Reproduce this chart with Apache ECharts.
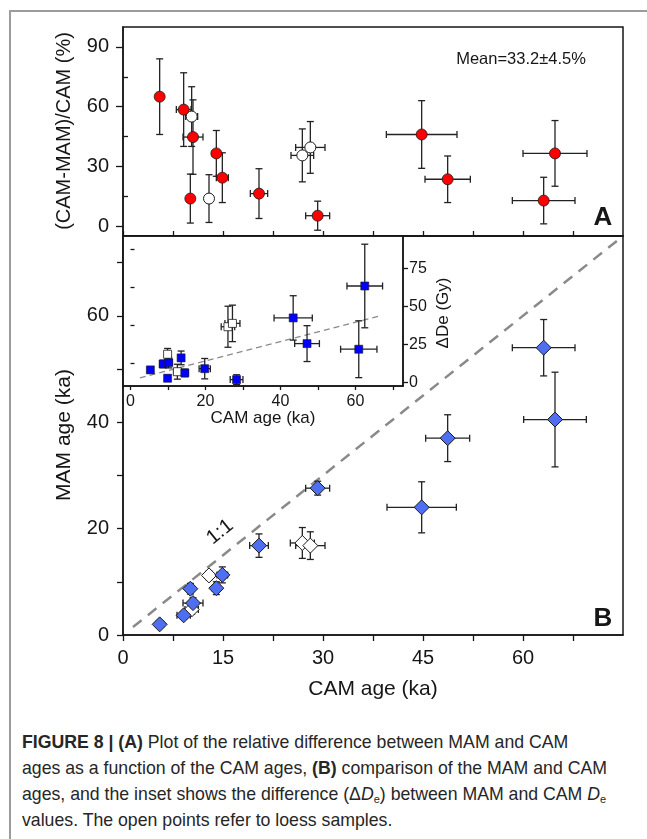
<!DOCTYPE html>
<html>
<head>
<meta charset="utf-8">
<script src="https://cdn.jsdelivr.net/npm/echarts@6/dist/echarts.min.js"></script>
<style>
  html, body { margin: 0; padding: 0; background: #fff; }
  #wrap { position: relative; width: 647px; height: 839px; overflow: hidden; }
  #frame { position: absolute; left: 9px; top: 10px; width: 660px; height: 860px;
    border-top: 2px solid #9c9c9c; border-left: 2px solid #9c9c9c; }
  #chart { position: absolute; left: 0; top: 0; width: 647px; height: 720px; }
  #caption { position: absolute; left: 22px; top: 729px; font-family: 'Liberation Sans', Arial, sans-serif;
    font-size: 17.7px; line-height: 26px; color: #262626; white-space: nowrap; }
  #caption sub { font-size: 11px; vertical-align: -3px; line-height: 0; }
</style>
</head>
<body>
<div id="wrap">
  <div id="frame"></div>
  <div id="chart"></div>
  <div id="caption">
    <b>FIGURE 8 | (A)</b> Plot of the relative difference between MAM and CAM<br>
    ages as a function of the CAM ages, <b>(B)</b> comparison of the MAM and CAM<br>
    ages, and the inset shows the difference (&Delta;<i>D</i><sub>e</sub>) between MAM and CAM <i>D</i><sub>e</sub><br>
    values. The open points refer to loess samples.
  </div>
</div>
<script>
// panel A: relative difference (%) vs CAM age (ka)
const aRedX = [5.5, 9.1, 10.5, 10.1, 14.0, 14.9, 20.4, 29.2, 44.8, 48.7, 64.8, 63.1];
const aRedY = [65, 58.5, 44.7, 13.8, 36.5, 24.3, 16.3, 5.2, 46, 23.5, 36.5, 12.8];
const aRedXErr = [0.3, 1.1, 1.5, 0.3, 0.6, 0.9, 1.3, 1.8, 5.3, 3.4, 4.8, 4.7];
const aRedYErr = [19, 18.5, 18.7, 12.3, 11.5, 12.5, 12.5, 7.3, 17, 11.7, 16.5, 11.7];
const aOpenX = [10.3, 12.9, 26.9, 28.1];
const aOpenY = [55, 13.8, 35.5, 39.5];
const aOpenXErr = [0.9, 0.5, 1.7, 2.2];
const aOpenYErr = [15, 12, 13.3, 13];

// panel B: MAM age vs CAM age (ka)
const bX = [5.5, 9.1, 10.5, 10.1, 14.0, 14.9, 20.4, 29.2, 44.8, 48.7, 64.8, 63.1];
const bY = [2.0, 3.7, 6.0, 8.7, 8.8, 11.3, 16.8, 27.6, 24.0, 37.0, 40.5, 54.0];
const bXErr = [0.6, 1.0, 1.5, 0.5, 0.6, 0.8, 1.4, 1.8, 5.2, 3.3, 4.7, 4.7];
const bYErr = [0.5, 0.7, 1.0, 1.0, 1.2, 1.5, 2.2, 1.3, 4.8, 4.4, 8.9, 5.3];
const bOpenX = [10.3, 12.9, 26.9, 28.1];
const bOpenY = [4.8, 11.2, 17.3, 16.8];
const bOpenXErr = [1.0, 0.6, 1.8, 2.2];
const bOpenYErr = [0.9, 0.8, 2.9, 2.6];
const oneX = [1.5, 75];
const oneY = [1.5, 75];

// inset: delta De (Gy) vs CAM age (ka)
const iX = [5.3, 8.7, 10.2, 9.9, 13.5, 14.5, 19.8, 28.3, 43.4, 47.1, 60.9, 62.5];
const iY = [8.4, 12.3, 13.2, 2.9, 16.3, 6.4, 9.2, 2.0, 42.6, 25.7, 22.0, 63.6];
const iXErr = [0.4, 0.9, 0.9, 0.4, 0.5, 0.9, 1.5, 1.7, 5.1, 3.3, 4.85, 4.75];
const iYErr = [1, 2.5, 3.5, 2, 4.5, 2.5, 6.7, 3.2, 14.6, 11.8, 18.7, 27.5];
const iOpenX = [9.9, 12.5, 26.0, 27.2];
const iOpenY = [18.7, 7.2, 36.8, 39.0];
const iOpenXErr = [0.6, 1.0, 1.8, 2.0];
const iOpenYErr = [3.8, 4.9, 13.5, 12];
const fitX = [2.5, 67];
const fitY = [3.2, 44.2];

// tick values
const bXLabels = [0, 15, 30, 45, 60];
const bXTicks = [0, 7.5, 15, 22.5, 30, 37.5, 45, 52.5, 60, 67.5];
const bYLabels = [0, 20, 40, 60];
const bYTicks = [0, 10, 20, 30, 40, 50, 60, 70];
const aYLabels = [0, 30, 60, 90];
const aYMinor = [15, 45, 75];
const iXLabels = [0, 20, 40, 60];
const iXTicks = [0, 10, 20, 30, 40, 50, 60, 70];
const iYLabels = [0, 25, 50, 75];
const iYMinor = [12.5, 37.5, 62.5, 87.5];

const FONT = "'Liberation Sans', Arial, sans-serif";
const INK = '#161616';

const zip = (...cols) => cols[0].map((_, i) => cols.map((c) => c[i]));

const errRender = (params, api) => {
  const x = api.value(0);
  const y = api.value(1);
  const dx = api.value(2);
  const dy = api.value(3);
  const l = api.coord([x - dx, y]);
  const r = api.coord([x + dx, y]);
  const t = api.coord([x, y + dy]);
  const b = api.coord([x, y - dy]);
  const c = 3.5;
  const st = { stroke: '#222', lineWidth: 1.3 };
  const seg = (x1, y1, x2, y2) => ({ type: 'line', shape: { x1, y1, x2, y2 }, style: st });
  return {
    type: 'group',
    children: [
      seg(l[0], l[1], r[0], r[1]),
      seg(t[0], t[1], b[0], b[1]),
      seg(l[0], l[1] - c, l[0], l[1] + c),
      seg(r[0], r[1] - c, r[0], r[1] + c),
      seg(t[0] - c, t[1], t[0] + c, t[1]),
      seg(b[0] - c, b[1], b[0] + c, b[1]),
    ],
  };
};

const errSeries = (xs, ys, xe, ye, xi, yi) => ({
  type: 'custom',
  xAxisIndex: xi,
  yAxisIndex: yi,
  renderItem: errRender,
  encode: { x: 0, y: 1 },
  clip: false,
  silent: true,
  z: 2,
  data: zip(xs, ys, xe, ye),
});

const markSeries = (xs, ys, xi, yi, symbol, size, fill, bw) => ({
  type: 'scatter',
  xAxisIndex: xi,
  yAxisIndex: yi,
  symbol,
  symbolSize: size,
  itemStyle: { color: fill, borderColor: '#1a1a1a', borderWidth: bw, opacity: 1 },
  z: 3,
  silent: true,
  data: zip(xs, ys),
});

const axisLine = { show: true, onZero: false, lineStyle: { color: INK, width: 1.5 } };
const tickStyle = { color: INK, width: 1.3 };

const chart = echarts.init(document.getElementById('chart'), null, { renderer: 'canvas' });

const option = {
  animation: false,
  backgroundColor: 'transparent',
  grid: [
    { left: 123, top: 27, width: 500, height: 209, show: true, borderColor: INK, borderWidth: 1.5 },
    { left: 123, top: 236, width: 500, height: 399, show: true, borderColor: INK, borderWidth: 1.5 },
    { left: 123, top: 236, width: 280, height: 150, show: true, borderColor: INK, borderWidth: 1.5, backgroundColor: '#fff' },
  ],
  xAxis: [
    {
      gridIndex: 0, type: 'value', min: 0, max: 75, axisLine,
      axisLabel: { show: false },
      axisTick: { inside: true, length: 5, lineStyle: tickStyle, customValues: bXTicks },
      splitLine: { show: false },
    },
    {
      gridIndex: 1, type: 'value', min: 0, max: 75, axisLine,
      axisLabel: { customValues: bXLabels, fontSize: 20, fontFamily: FONT, color: INK, margin: 13 },
      axisTick: { length: 6, lineStyle: tickStyle, customValues: bXTicks },
      splitLine: { show: false },
    },
    {
      gridIndex: 2, type: 'value', min: -2, max: 72.7, axisLine,
      axisLabel: { customValues: iXLabels, fontSize: 16, fontFamily: FONT, color: INK, margin: 8 },
      axisTick: { length: 4, lineStyle: tickStyle, customValues: iXTicks },
      splitLine: { show: false },
    },
  ],
  yAxis: [
    {
      gridIndex: 0, type: 'value', min: -5, max: 100, axisLine,
      axisLabel: { customValues: aYLabels, fontSize: 20, fontFamily: FONT, color: INK, margin: 14 },
      axisTick: { length: 7, lineStyle: tickStyle, customValues: aYLabels },
      splitLine: { show: false },
    },
    {
      gridIndex: 0, type: 'value', min: -5, max: 100,
      axisLine: { show: false },
      axisLabel: { show: false },
      axisTick: { length: 5, lineStyle: tickStyle, customValues: aYMinor },
      splitLine: { show: false },
    },
    {
      gridIndex: 1, type: 'value', min: 0, max: 75, axisLine,
      axisLabel: { customValues: bYLabels, fontSize: 20, fontFamily: FONT, color: INK, margin: 14 },
      axisTick: { length: 6, lineStyle: tickStyle, customValues: bYTicks },
      splitLine: { show: false },
    },
    {
      gridIndex: 2, type: 'value', position: 'right', min: -2.2, max: 96.5, axisLine,
      axisLabel: { customValues: iYLabels, fontSize: 16, fontFamily: FONT, color: INK, margin: 6 },
      axisTick: { length: 5, lineStyle: tickStyle, customValues: iYLabels },
      splitLine: { show: false },
    },
    {
      gridIndex: 2, type: 'value', position: 'right', min: -2.2, max: 96.5,
      axisLine: { show: false },
      axisLabel: { show: false },
      axisTick: { length: 4, lineStyle: tickStyle, customValues: iYMinor },
      splitLine: { show: false },
    },
  ],
  series: [
    // panel A
    errSeries(aRedX, aRedY, aRedXErr, aRedYErr, 0, 0),
    errSeries(aOpenX, aOpenY, aOpenXErr, aOpenYErr, 0, 0),
    markSeries(aRedX, aRedY, 0, 0, 'circle', 11, '#ff0000', 0.8),
    markSeries(aOpenX, aOpenY, 0, 0, 'circle', 11, '#ffffff', 1),
    // panel B
    {
      type: 'line', xAxisIndex: 1, yAxisIndex: 2, data: zip(oneX, oneY), symbol: 'none', silent: true,
      lineStyle: { color: '#8a8a8a', width: 2.5, type: [11, 8] }, z: 1,
    },
    errSeries(bOpenX, bOpenY, bOpenXErr, bOpenYErr, 1, 2),
    markSeries(bOpenX, bOpenY, 1, 2, 'diamond', 15, '#ffffff', 1),
    errSeries(bX, bY, bXErr, bYErr, 1, 2),
    markSeries(bX, bY, 1, 2, 'diamond', 15, '#4d6ff0', 1),
    // inset
    {
      type: 'line', xAxisIndex: 2, yAxisIndex: 3, data: zip(fitX, fitY), symbol: 'none', silent: true,
      lineStyle: { color: '#8a8a8a', width: 1.3, type: [6, 4] }, z: 1,
    },
    errSeries(iOpenX, iOpenY, iOpenXErr, iOpenYErr, 2, 3),
    markSeries(iOpenX, iOpenY, 2, 3, 'rect', 8, '#ffffff', 0.8),
    errSeries(iX, iY, iXErr, iYErr, 2, 3),
    markSeries(iX, iY, 2, 3, 'rect', 8, '#0000ff', 0.6),
  ],
  graphic: [
    { type: 'text', x: 64, y: 131, rotation: Math.PI / 2,
      style: { text: '(CAM-MAM)/CAM (%)', font: `20px ${FONT}`, fill: INK, align: 'center', verticalAlign: 'middle' } },
    { type: 'text', x: 64, y: 435, rotation: Math.PI / 2,
      style: { text: 'MAM age (ka)', font: `21px ${FONT}`, fill: INK, align: 'center', verticalAlign: 'middle' } },
    { type: 'text', x: 373, y: 689,
      style: { text: 'CAM age (ka)', font: `21px ${FONT}`, fill: INK, align: 'center', verticalAlign: 'middle' } },
    { type: 'text', x: 263, y: 418,
      style: { text: 'CAM age (ka)', font: `17px ${FONT}`, fill: INK, align: 'center', verticalAlign: 'middle' } },
    { type: 'text', x: 443, y: 313, rotation: Math.PI / 2,
      style: { text: '\u0394De (Gy)', font: `17px ${FONT}`, fill: INK, align: 'center', verticalAlign: 'middle' } },
    { type: 'text', x: 521, y: 59,
      style: { text: 'Mean=33.2\u00b14.5%', font: `16.5px ${FONT}`, fill: INK, align: 'center', verticalAlign: 'middle' } },
    { type: 'text', x: 603, y: 218,
      style: { text: 'A', font: `bold 26px ${FONT}`, fill: INK, align: 'center', verticalAlign: 'middle' } },
    { type: 'text', x: 603, y: 619,
      style: { text: 'B', font: `bold 26px ${FONT}`, fill: INK, align: 'center', verticalAlign: 'middle' } },
    { type: 'text', x: 220, y: 532, rotation: 0.68,
      style: { text: '1:1', font: `20px ${FONT}`, fill: INK, align: 'center', verticalAlign: 'middle' } },
  ],
};

chart.setOption(option);
</script>
</body>
</html>
